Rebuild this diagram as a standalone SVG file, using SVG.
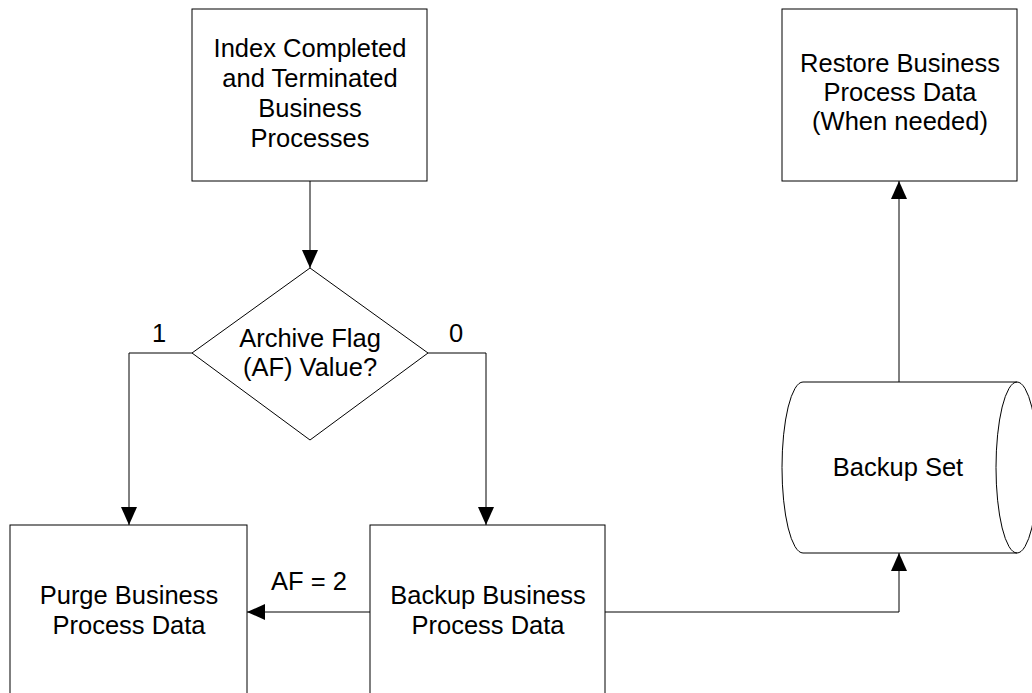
<svg xmlns="http://www.w3.org/2000/svg" width="1032" height="693" viewBox="0 0 1032 693">
<style>
.shape{fill:#fff;stroke:#000;stroke-width:1}
.conn{fill:none;stroke:#000;stroke-width:1}
text{font-family:"Liberation Sans",Arial,sans-serif;font-size:25.5px;fill:#000;text-anchor:middle}
</style>
<defs>
<marker id="arr" viewBox="0 0 18 16" refX="18" refY="8" markerWidth="18" markerHeight="16" markerUnits="userSpaceOnUse" orient="auto">
<path d="M0,0 L18,8 L0,16 Z" fill="#000"/>
</marker>
</defs>
<rect width="1032" height="693" fill="#fff"/>
<g id="connectors">
<path class="conn" d="M310,181 V268" marker-end="url(#arr)"/>
<path class="conn" d="M192,353 H129 V525" marker-end="url(#arr)"/>
<path class="conn" d="M428,353 H486 V525" marker-end="url(#arr)"/>
<path class="conn" d="M370,612 H247" marker-end="url(#arr)"/>
<path class="conn" d="M605,612 H899 V553" marker-end="url(#arr)"/>
<path class="conn" d="M899,382 V181" marker-end="url(#arr)"/>
<text x="159" y="342">1</text>
<text x="456" y="342">0</text>
<text x="309" y="590">AF = 2</text>
</g>
<g id="index">
<rect class="shape" x="192" y="9" width="235" height="172"/>
<text x="310" y="57">Index Completed</text>
<text x="310" y="87">and Terminated</text>
<text x="310" y="117">Business</text>
<text x="310" y="147">Processes</text>
</g>
<g id="decision">
<path class="shape" d="M310,268 L428,353 L310,440 L192,353 Z"/>
<text x="310" y="347">Archive Flag</text>
<text x="310" y="376">(AF) Value?</text>
</g>
<g id="purge">
<rect class="shape" x="10" y="525" width="237" height="200"/>
<text x="129" y="604">Purge Business</text>
<text x="129" y="634">Process Data</text>
</g>
<g id="backup">
<rect class="shape" x="370" y="525" width="235" height="200"/>
<text x="488" y="604">Backup Business</text>
<text x="488" y="634">Process Data</text>
</g>
<g id="backupset">
<path class="shape" d="M803,382 H1017 A21,85.5 0 0 1 1017,553 H803 A21,85.5 0 0 1 803,382 Z"/>
<path class="conn" d="M1017,382 A21,85.5 0 0 0 1017,553"/>
<text x="898" y="476">Backup Set</text>
</g>
<g id="restore">
<rect class="shape" x="782" y="9" width="235" height="172"/>
<text x="900" y="72">Restore Business</text>
<text x="900" y="101">Process Data</text>
<text x="900" y="130">(When needed)</text>
</g>
</svg>
